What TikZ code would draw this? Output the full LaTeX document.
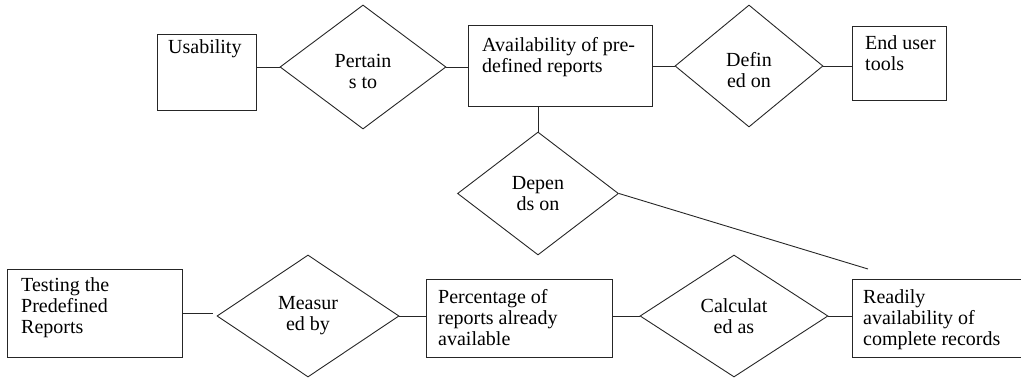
\documentclass[tikz,border=0pt]{standalone}
\usepackage{fontspec}
\setmainfont{Liberation Serif}
\usetikzlibrary{shapes.geometric}

\tikzset{
  link/.style={draw=black!85, line width=0.9pt},
  entity/.style={link, rectangle, inner sep=0pt, anchor=north west},
  relation/.style={link, diamond, inner sep=0pt},
  rellabel/.style={inner sep=0pt, align=center,
    font=\fontsize{20}{21}\selectfont},
  boxtext/.style={anchor=north west, inner sep=0pt, align=left,
    font=\fontsize{20}{21}\selectfont},
}

\begin{document}
\begin{tikzpicture}[x=1pt,y=-1pt]
  \useasboundingbox (0,0) rectangle (1021,379);
  \clip (0,0) rectangle (1021,379);

  % entities (top row)
  \node[entity, minimum width=99pt,  minimum height=76pt] (us) at (157,34) {};
  \node[entity, minimum width=184pt, minimum height=81pt] (av) at (468,25) {};
  \node[entity, minimum width=94pt,  minimum height=74pt] (eu) at (852,26) {};

  % entities (bottom row)
  \node[entity, minimum width=175pt, minimum height=88pt] (ts) at (7,269) {};
  \node[entity, minimum width=186pt, minimum height=78pt] (pc) at (426,279) {};
  \node[entity, minimum width=200pt, minimum height=78pt] (rd) at (852,279) {};

  % entity labels
  \node[boxtext] (ust) at (168,39.5) {Usability};
  \node[boxtext] (avt) at (482,37.5) {Availability of pre-\\defined reports};
  \node[boxtext] (eut) at (865,35.5) {End user\\tools};
  \node[boxtext] (tst) at (21,277.5) {Testing the\\Predefined\\Reports};
  \node[boxtext] (pct) at (438,289.5) {Percentage of\\reports already\\available};
  \node[boxtext] (rdt) at (863,289.5) {Readily\\availability of\\complete records};

  % relationships
  \node[relation, minimum width=166pt, minimum height=124pt] (pt) at (363,67) {};
  \node[relation, minimum width=148pt, minimum height=122pt] (df) at (749,66) {};
  \node[relation, minimum width=161pt, minimum height=123pt] (dp) at (538,193.5) {};
  \node[relation, minimum width=182pt, minimum height=122pt] (ms) at (308,316) {};
  \node[relation, minimum width=188pt, minimum height=122pt] (cl) at (734,316) {};

  % relationship labels
  \node[rellabel, yshift=-4pt] (ptt) at (pt) {Pertain\\s to};
  \node[rellabel, yshift=-4pt] (dft) at (df) {Defin\\ed on};
  \node[rellabel] (dpt) at (dp) {Depen\\ds on};
  \node[rellabel] (mst) at (ms) {Measur\\ed by};
  \node[rellabel] (clt) at (cl) {Calculat\\ed as};

  \coordinate (dpend) at (868,269);

  % connectors
  \draw[link] (pt.west -| us.east) -- (pt.west);
  \draw[link] (pt.east) -- (pt.east -| av.west);
  \draw[link] (dp.north |- av.south) -- (dp.north);
  \draw[link] (df.west -| av.east) -- (df.west);
  \draw[link] (df.east) -- (df.east -| eu.west);
  \draw[link] (dp.east) -- (dpend);
  \draw[link, shorten >=4pt] (ts.east) -- (ts.east -| ms.west);
  \draw[link] (ms.east) -- (ms.east -| pc.west);
  \draw[link] (pc.east |- cl.west) -- (cl.west);
  \draw[link] (cl.east) -- (cl.east -| rd.west);
\end{tikzpicture}
\end{document}
